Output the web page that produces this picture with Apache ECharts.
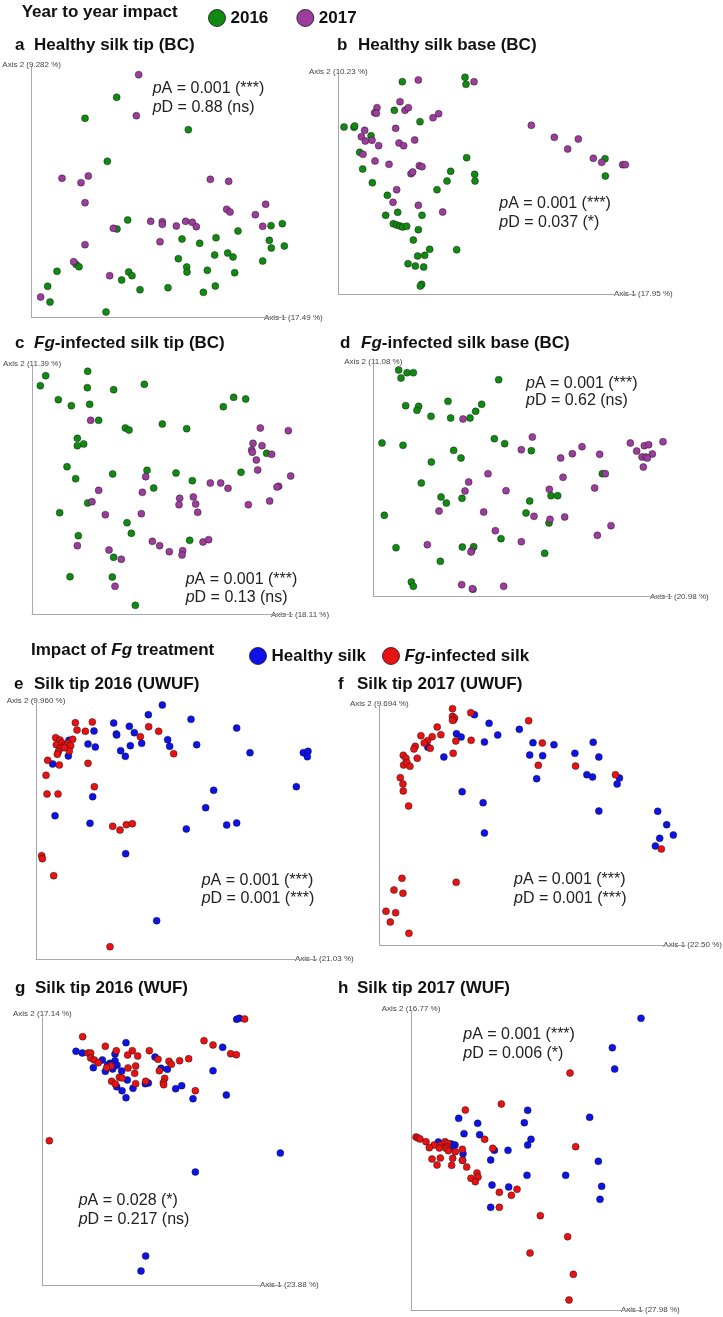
<!DOCTYPE html>
<html>
<head>
<meta charset="utf-8">
<script src="https://cdn.jsdelivr.net/npm/echarts/dist/echarts.min.js"></script>
<style>
  html, body { margin: 0; padding: 0; background: #fff; }
  #chart { width: 723px; height: 1317px; }
</style>
</head>
<body>
<div id="chart"></div>
<script>
// PCoA scores (arbitrary ordination units, one frame per panel)
// a  Healthy silk tip (BC)
const tipHealthy2016 = [[350,292],[255,355],[565,389],[322,484],[383,660],[351,687],[813,677],[847,671],[714,693],[546,717],[648,713],[599,730],[808,721],[814,744],[853,738],[683,759],[699,771],[644,765],[535,776],[788,783],[228,793],[237,800],[171,814],[560,801],[561,816],[622,811],[704,818],[386,816],[396,827],[365,840],[143,859],[420,869],[504,863],[646,858],[610,877],[150,906],[318,936]];
const tipHealthy2017 = [[416,224],[409,347],[186,535],[243,548],[265,528],[631,538],[686,544],[255,608],[680,628],[690,636],[797,613],[766,644],[452,664],[487,665],[487,673],[557,664],[577,667],[589,680],[529,678],[340,685],[788,679],[480,725],[255,734],[221,785],[329,827],[122,891]];
// b  Healthy silk base (BC)
const baseHealthy2016 = [[217,155],[405,142],[408,163],[193,241],[270,275],[42,291],[72,292],[74,288],[123,317],[89,367],[410,383],[825,386],[98,417],[362,424],[434,433],[435,453],[826,438],[127,458],[351,453],[321,479],[172,496],[167,556],[203,547],[276,556],[190,581],[200,585],[210,588],[218,591],[230,589],[265,599],[250,630],[299,658],[380,659],[263,678],[284,676],[234,701],[256,708],[281,711],[275,763],[271,768]];
const baseHealthy2017 = [[265,150],[432,155],[210,215],[141,233],[134,248],[139,250],[225,241],[235,233],[309,263],[326,251],[104,301],[197,295],[94,320],[106,333],[126,331],[146,347],[207,339],[221,347],[254,330],[604,286],[673,322],[745,327],[713,357],[99,373],[135,393],[177,403],[790,385],[815,397],[878,404],[886,404],[268,407],[276,410],[243,431],[248,426],[200,479],[189,517],[265,526],[338,546]];
// c  Fg-infected silk tip (BC)
const tipInfected2016 = [[137,137],[121,167],[263,124],[262,173],[341,179],[433,163],[175,209],[214,227],[269,223],[296,271],[376,294],[387,300],[487,282],[560,296],[670,230],[701,202],[737,207],[232,325],[232,347],[251,342],[800,370],[201,410],[227,446],[338,432],[441,421],[528,429],[577,452],[723,427],[461,474],[263,519],[179,548],[381,578],[394,610],[235,617],[569,631],[341,682],[210,740],[337,741],[406,826]];
const tipInfected2017 = [[272,271],[781,294],[865,302],[759,340],[786,347],[755,360],[757,367],[815,373],[769,390],[773,420],[437,440],[872,438],[631,459],[662,459],[684,475],[836,469],[831,471],[296,481],[427,487],[539,505],[580,501],[537,524],[587,522],[593,547],[745,524],[809,513],[276,515],[316,554],[424,551],[232,647],[457,634],[479,647],[508,665],[548,662],[546,675],[609,636],[626,629],[327,660],[364,688],[345,769]];
// d  Fg-infected silk base (BC)
const baseInfected2016 = [[116,120],[141,128],[160,128],[123,144],[416,149],[137,227],[176,229],[171,241],[264,214],[365,223],[347,244],[213,259],[272,264],[330,264],[66,339],[129,346],[403,326],[434,341],[514,362],[281,361],[303,384],[214,396],[727,431],[184,459],[573,497],[593,497],[243,501],[306,505],[259,519],[509,513],[498,549],[567,579],[73,556],[423,626],[108,653],[307,651],[341,650],[554,670],[241,694],[154,756],[160,769],[339,778]];
const baseInfected2017 = [[309,267],[517,321],[484,359],[666,350],[637,371],[602,384],[719,373],[811,339],[853,347],[866,344],[909,335],[830,363],[877,372],[846,381],[857,381],[862,384],[850,411],[384,431],[736,431],[609,442],[326,456],[315,483],[438,482],[704,474],[568,478],[237,543],[371,546],[522,559],[614,561],[570,568],[753,587],[712,616],[406,602],[484,635],[202,644],[335,662],[333,666],[305,764],[337,776],[431,769]];
// e  Silk tip 2016 (UWUF)
const uwuf2016Healthy = [[487,270],[445,299],[573,313],[341,324],[388,334],[349,357],[350,360],[403,353],[282,348],[710,339],[503,374],[509,394],[425,385],[391,392],[590,389],[362,407],[376,424],[750,413],[910,413],[924,409],[922,425],[264,387],[286,396],[207,376],[205,423],[158,447],[278,545],[889,515],[641,526],[617,578],[165,602],[270,625],[559,642],[680,630],[710,624],[377,716],[470,917]];
const uwuf2016Infected = [[226,323],[277,321],[231,345],[256,349],[446,335],[476,349],[421,365],[521,416],[167,368],[180,375],[218,373],[169,389],[186,384],[192,393],[205,385],[212,392],[181,400],[175,410],[208,408],[193,398],[172,418],[143,436],[178,450],[264,445],[138,481],[283,515],[141,537],[174,537],[338,634],[360,645],[379,629],[397,626],[125,722],[127,731],[161,782],[330,995]];
// f  Silk tip 2017 (UWUF)
const uwuf2017Healthy = [[344,224],[388,250],[479,268],[290,281],[304,291],[374,306],[414,285],[520,308],[583,314],[701,307],[204,322],[252,351],[510,345],[549,347],[646,340],[718,351],[682,404],[699,411],[780,414],[773,432],[531,416],[307,455],[370,488],[718,513],[895,514],[922,554],[942,585],[374,579],[901,595],[888,618]];
const uwuf2017Infected = [[278,206],[333,218],[278,229],[284,234],[281,240],[278,241],[507,242],[232,261],[243,284],[183,287],[217,290],[203,302],[193,309],[288,303],[334,301],[548,309],[166,319],[162,327],[211,325],[280,340],[130,346],[138,355],[172,355],[131,375],[141,368],[150,379],[536,376],[648,378],[768,404],[121,413],[129,432],[130,453],[146,498],[906,627],[126,715],[289,727],[102,750],[129,760],[78,814],[107,818],[91,846],[147,880]];
// g  Silk tip 2016 (WUF)
const wuf2016Healthy = [[710,178],[718,175],[378,248],[668,262],[228,274],[247,279],[307,300],[345,282],[465,291],[345,302],[330,310],[323,315],[338,312],[351,316],[280,323],[365,333],[316,334],[338,327],[483,325],[502,328],[639,332],[382,360],[350,380],[445,369],[436,371],[366,392],[399,385],[527,386],[545,377],[378,413],[579,416],[679,405],[841,579],[586,636],[437,888],[423,933]];
const wuf2016Infected = [[734,177],[248,230],[612,242],[639,255],[316,259],[349,272],[397,272],[448,272],[383,285],[413,288],[264,279],[272,279],[272,294],[283,300],[295,308],[474,298],[507,304],[539,302],[566,296],[692,281],[709,284],[333,318],[320,323],[384,324],[407,318],[514,313],[478,332],[404,340],[358,352],[366,354],[494,355],[335,364],[346,372],[490,368],[491,374],[437,364],[407,371],[586,392],[148,542]];
// h  Silk tip 2017 (WUF)
const wuf2017Healthy = [[843,175],[757,263],[764,327],[503,451],[296,475],[493,488],[353,490],[689,472],[312,521],[359,524],[513,538],[503,555],[235,546],[268,555],[274,552],[285,555],[278,563],[309,581],[403,571],[444,571],[308,601],[392,600],[715,604],[501,646],[617,646],[396,675],[446,681],[725,679],[720,718],[392,742]];
const wuf2017Infected = [[630,339],[424,432],[316,450],[374,538],[647,560],[168,531],[174,534],[180,537],[198,545],[222,555],[208,563],[242,555],[238,564],[255,545],[263,550],[262,560],[258,565],[265,572],[286,575],[307,568],[398,565],[216,597],[241,594],[278,595],[307,601],[231,615],[275,616],[320,621],[351,639],[354,651],[333,655],[346,665],[471,688],[418,697],[454,706],[418,742],[541,767],[623,830],[510,879],[640,943],[627,1020]];

const panelLetters = ['a', 'b', 'c', 'd', 'e', 'f', 'g', 'h'];
const panelTitles = ['Healthy silk tip (BC)', 'Healthy silk base (BC)', '{it|Fg}-infected silk tip (BC)', '{it|Fg}-infected silk base (BC)',
  'Silk tip 2016 (UWUF)', 'Silk tip 2017 (UWUF)', 'Silk tip 2016 (WUF)', 'Silk tip 2017 (WUF)'];
const axis1Names = ['Axis 1 (17.49 %)', 'Axis 1 (17.95 %)', 'Axis 1 (18.11 %)', 'Axis 1 (20.98 %)', 'Axis 1 (21.03 %)', 'Axis 1 (22.50 %)', 'Axis 1 (23.88 %)', 'Axis 1 (27.98 %)'];
const axis2Names = ['Axis 2 (9.282 %)', 'Axis 2 (10.23 %)', 'Axis 2 (11.39 %)', 'Axis 2 (11.08 %)', 'Axis 2 (9.960 %)', 'Axis 2 (9.694 %)', 'Axis 2 (17.14 %)', 'Axis 2 (16.77 %)'];
const pA = ['0.001 (***)', '0.001 (***)', '0.001 (***)', '0.001 (***)', '0.001 (***)', '0.001 (***)', '0.028 (*)', '0.001 (***)'];
const pD = ['0.88 (ns)', '0.037 (*)', '0.13 (ns)', '0.62 (ns)', '0.001 (***)', '0.001 (***)', '0.217 (ns)', '0.006 (*)'];

const yearSeries = [[tipHealthy2016, tipHealthy2017], [baseHealthy2016, baseHealthy2017], [tipInfected2016, tipInfected2017], [baseInfected2016, baseInfected2017]];
const treatSeries = [[uwuf2016Healthy, uwuf2016Infected], [uwuf2017Healthy, uwuf2017Infected], [wuf2016Healthy, wuf2016Infected], [wuf2017Healthy, wuf2017Infected]];

// layout: origin of each panel's reading frame in px, 3 units per px
const S = 3;
const frames = [
  { o: [0, 0],     xMin: 95,  yTop: 202, yBottom: 953,  labelEnd: 321 },
  { o: [330, 30],  xMin: 25,  yTop: 134, yBottom: 792,  labelEnd: 671 },
  { o: [0, 330],   xMin: 96,  yTop: 109, yBottom: 853,  labelEnd: 328 },
  { o: [360, 330], xMin: 40,  yTop: 104, yBottom: 800,  labelEnd: 707 },
  { o: [0, 615],   xMin: 108, yTop: 265, yBottom: 1032, labelEnd: 352 },
  { o: [360, 640], xMin: 58,  yTop: 199, yBottom: 915,  labelEnd: 721 },
  { o: [0, 960],   xMin: 127, yTop: 171, yBottom: 975,  labelEnd: 317 },
  { o: [360, 960], xMin: 153, yTop: 154, yBottom: 1050, labelEnd: 678 }
];
const titlePos = [[15, 34, 45.5], [337, 358, 45.5], [15, 34, 343.3], [340, 361, 343.3], [14, 34, 684.5], [338, 357, 684.5], [15, 35, 988], [338, 357, 988]];
const pPos = [[152.7, 89, 107.3], [499.3, 204, 222.7], [185.7, 579.3, 597.3], [526, 383.3, 401], [201.7, 881, 899], [514, 880, 898.3], [78.7, 1200.7, 1219.3], [463.3, 1035, 1053.3]];

const FONT = '"Liberation Sans", Arial, Helvetica, sans-serif';
const colors = { '2016': '#118a11', '2017': '#9c3c9c', 'Healthy silk': '#0c12e8', 'Fg-infected silk': '#e81212' };

const chart = echarts.init(document.getElementById('chart'), null, { renderer: 'canvas' });

const grids = [], xAxes = [], yAxes = [], series = [], graphics = [];
frames.forEach((f, i) => {
  const left = f.o[0] + f.xMin / S;
  const top = f.o[1] + f.yTop / S;
  const lineEnd = f.labelEnd - 35;
  grids.push({ left: left, top: top, width: lineEnd - left, height: (f.yBottom - f.yTop) / S });
  xAxes.push({
    gridIndex: i, type: 'value', min: f.xMin, max: (lineEnd - f.o[0]) * S,
    axisLine: { show: true, onZero: false, lineStyle: { color: '#a8a8a8', width: 1 } },
    axisTick: { show: false }, axisLabel: { show: false }, splitLine: { show: false },
    name: axis1Names[i], nameLocation: 'end', nameGap: -22,
    nameTextStyle: { fontFamily: FONT, fontSize: 8, color: '#444', verticalAlign: 'middle' }
  });
  yAxes.push({
    gridIndex: i, type: 'value', inverse: true, min: f.yTop, max: f.yBottom,
    axisLine: { show: true, onZero: false, lineStyle: { color: '#a8a8a8', width: 1 } },
    axisTick: { show: false }, axisLabel: { show: false }, splitLine: { show: false },
    name: axis2Names[i], nameLocation: 'start', nameGap: -1,
    nameTextStyle: { fontFamily: FONT, fontSize: 8, color: '#444' }
  });
  const pair = i < 4 ? yearSeries[i] : treatSeries[i - 4];
  const names = i < 4 ? ['2016', '2017'] : ['Healthy silk', 'Fg-infected silk'];
  pair.forEach((d, k) => {
    series.push({
      type: 'scatter', name: names[k], xAxisIndex: i, yAxisIndex: i, data: d,
      symbol: 'circle', symbolSize: 7,
      itemStyle: { color: colors[names[k]], borderColor: 'rgba(20,20,20,0.75)', borderWidth: 0.6, opacity: 1 },
      emphasis: { disabled: true }
    });
  });
  const t = titlePos[i];
  graphics.push({ type: 'text', x: t[0], y: t[2], style: { text: panelLetters[i], font: 'bold 17px ' + FONT, fill: '#111', verticalAlign: 'middle' } });
  graphics.push({ type: 'text', x: t[1], y: t[2], style: {
    text: panelTitles[i], font: 'bold 17px ' + FONT, fill: '#111', verticalAlign: 'middle',
    rich: { it: { fontStyle: 'italic', fontWeight: 'bold', fontSize: 17, fontFamily: FONT, fill: '#111' } } } });
  const p = pPos[i];
  const pRich = { it: { fontStyle: 'italic', fontSize: 16, fontFamily: FONT, fill: '#222' } };
  graphics.push({ type: 'text', x: p[0], y: p[1], style: { text: '{it|p}A = ' + pA[i], font: '16px ' + FONT, fill: '#222', verticalAlign: 'middle', rich: pRich } });
  graphics.push({ type: 'text', x: p[0], y: p[2], style: { text: '{it|p}D = ' + pD[i], font: '16px ' + FONT, fill: '#222', verticalAlign: 'middle', rich: pRich } });
});

// section headers
graphics.push({ type: 'text', x: 21.7, y: 12.7, style: { text: 'Year to year impact', font: 'bold 17px ' + FONT, fill: '#111', verticalAlign: 'middle' } });
graphics.push({ type: 'text', x: 31, y: 650, style: {
  text: 'Impact of {it|Fg} treatment', font: 'bold 17px ' + FONT, fill: '#111', verticalAlign: 'middle',
  rich: { it: { fontStyle: 'italic', fontWeight: 'bold', fontSize: 17, fontFamily: FONT, fill: '#111' } } } });

const legendText = { fontFamily: FONT, fontSize: 17, fontWeight: 'bold', color: '#111',
  rich: { it: { fontStyle: 'italic', fontWeight: 'bold', fontSize: 17, fontFamily: FONT, color: '#111' } } };
const legendItem = { borderColor: 'rgba(20,20,20,0.8)', borderWidth: 1 };

chart.setOption({
  animation: false,
  grid: grids,
  xAxis: xAxes,
  yAxis: yAxes,
  legend: [
    { data: ['2016', '2017'], left: 203, top: 4, icon: 'circle', itemWidth: 17, itemHeight: 17, itemGap: 28,
      selectedMode: false, textStyle: legendText, itemStyle: legendItem },
    { data: ['Healthy silk', 'Fg-infected silk'], left: 244, top: 642, icon: 'circle', itemWidth: 17, itemHeight: 17, itemGap: 16,
      selectedMode: false, textStyle: legendText, itemStyle: legendItem,
      formatter: n => n === 'Fg-infected silk' ? '{it|Fg}-infected silk' : n }
  ],
  series: series,
  graphic: graphics
});
</script>
</body>
</html>
